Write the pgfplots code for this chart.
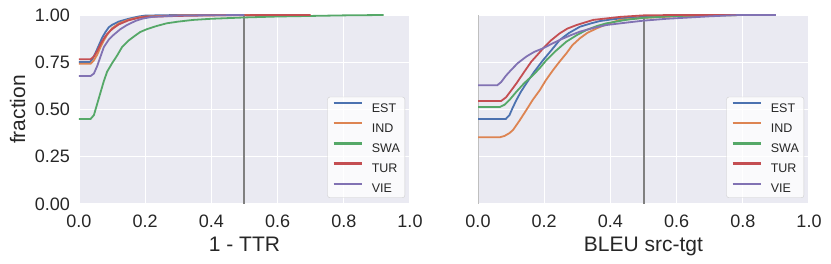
\documentclass[border=0pt]{standalone}
\usepackage{pgfplots}
\pgfplotsset{compat=1.18}
\usepackage{fontspec}
\setmainfont{Liberation Sans}
\definecolor{bgc}{HTML}{EAEAF2}
\definecolor{txt}{HTML}{262626}
\definecolor{cEST}{HTML}{4C72B0}
\definecolor{cIND}{HTML}{DD8452}
\definecolor{cSWA}{HTML}{55A868}
\definecolor{cTUR}{HTML}{C44E52}
\definecolor{cVIE}{HTML}{8172B3}
\definecolor{vline}{HTML}{808080}
\pgfplotsset{
  sbstyle/.style={
    scale only axis, width=331pt, height=189pt,
    xmin=0, xmax=1, ymin=0, ymax=1,
    axis background/.style={fill=bgc},
    grid=major, grid style={white, line width=1.3pt},
    axis line style={draw=none}, major tick length=0pt,
    xtick={0,0.2,0.4,0.6,0.8,1}, ytick={0,0.25,0.5,0.75,1},
    /pgf/number format/assume math mode=true,
    xticklabel style={/pgf/number format/.cd, fixed, fixed zerofill, precision=1, /tikz/.cd, font=\fontsize{18}{18}\selectfont, text=txt, inner sep=0pt, anchor=north, yshift=-11pt},
    yticklabel style={/pgf/number format/.cd, fixed, fixed zerofill, precision=2, /tikz/.cd, font=\fontsize{18}{18}\selectfont, text=txt, inner sep=0pt, anchor=east, xshift=-9pt},
    label style={font=\fontsize{21}{21}\selectfont, text=txt, inner sep=0pt},
    xlabel style={at={(axis description cs:0.5,-0.249)}, anchor=base},
    every axis plot/.append style={line width=1.8pt},
    legend style={at={(axis description cs:0.985,0.032)}, anchor=south east,
      font=\fontsize{12.5}{12.5}\selectfont, text=txt,
      fill=white, fill opacity=0.8, text opacity=1, draw=black!20, rounded corners=2.5pt,
      inner xsep=5pt, inner ysep=5pt, row sep=10pt,
      nodes={inner sep=0pt, text height=9pt, text depth=0pt},
      /tikz/every odd column/.append style={column sep=9pt}},
    legend cell align=left,
    legend image code/.code={\draw[#1, line width=2.3pt, draw opacity=1, rounded corners=0pt] (0pt,4.5pt) -- (28pt,4.5pt);},
  }
}
\begin{document}
\begin{tikzpicture}
\begin{axis}[sbstyle, at={(79pt,60pt)}, anchor=south west,
  xlabel={1 - TTR}, ylabel={fraction},
  ylabel style={at={(axis description cs:-0.163,0.5)}, anchor=base, rotate=0}]
\addplot[forget plot, color=vline, line width=2pt] coordinates {(0.5,0) (0.5,1)};
\addplot[cEST] coordinates {(0,0.751) (0.033,0.751) (0.04,0.765) (0.05,0.80) (0.06,0.84) (0.07,0.88) (0.08,0.91) (0.09,0.935) (0.10,0.948) (0.12,0.965) (0.15,0.98) (0.18,0.992) (0.2,0.997) (0.3,1.0) (0.6,1.0)};
\addlegendentry{EST}
\addplot[cIND] coordinates {(0,0.742) (0.035,0.742) (0.045,0.76) (0.055,0.79) (0.065,0.83) (0.075,0.865) (0.085,0.895) (0.10,0.93) (0.12,0.955) (0.15,0.975) (0.18,0.987) (0.2,0.992) (0.3,0.998) (0.5,1.0) (0.6,1.0)};
\addlegendentry{IND}
\addplot[cSWA] coordinates {(0,0.45) (0.035,0.45) (0.045,0.47) (0.055,0.53) (0.065,0.59) (0.075,0.65) (0.085,0.70) (0.10,0.745) (0.115,0.785) (0.13,0.83) (0.15,0.865) (0.165,0.885) (0.185,0.91) (0.205,0.925) (0.235,0.942) (0.265,0.956) (0.3,0.965) (0.345,0.974) (0.4,0.98) (0.5,0.987) (0.6,0.992) (0.7,0.995) (0.8,0.998) (0.92,1.0)};
\addlegendentry{SWA}
\addplot[cTUR] coordinates {(0,0.766) (0.035,0.766) (0.045,0.78) (0.055,0.81) (0.065,0.845) (0.075,0.875) (0.085,0.90) (0.10,0.925) (0.12,0.95) (0.15,0.972) (0.18,0.985) (0.2,0.99) (0.3,0.995) (0.4,0.998) (0.6,1.0) (0.7,1.0)};
\addlegendentry{TUR}
\addplot[cVIE] coordinates {(0,0.677) (0.035,0.677) (0.045,0.69) (0.055,0.73) (0.065,0.78) (0.075,0.83) (0.09,0.87) (0.104,0.894) (0.125,0.925) (0.145,0.947) (0.17,0.968) (0.19,0.98) (0.22,0.99) (0.3,0.997) (0.5,1.0)};
\addlegendentry{VIE}
\end{axis}
\begin{axis}[sbstyle, at={(478pt,60pt)}, anchor=south west,
  xlabel={BLEU src-tgt}, yticklabels={}]
\addplot[forget plot, color=black!25, line width=1.2pt] coordinates {(0,0) (0,1)};
\addplot[forget plot, color=vline, line width=2pt] coordinates {(0.5,0) (0.5,1)};
\addplot[cEST] coordinates {(0,0.45) (0.084,0.45) (0.095,0.47) (0.105,0.51) (0.116,0.55) (0.13,0.595) (0.146,0.638) (0.17,0.70) (0.197,0.762) (0.22,0.81) (0.247,0.868) (0.275,0.905) (0.308,0.938) (0.34,0.955) (0.368,0.968) (0.41,0.978) (0.45,0.985) (0.5,0.99) (0.6,0.998) (0.7,1.0) (0.9,1.0)};
\addlegendentry{EST}
\addplot[cIND] coordinates {(0,0.353) (0.066,0.353) (0.08,0.36) (0.095,0.375) (0.106,0.392) (0.125,0.44) (0.146,0.497) (0.165,0.55) (0.187,0.603) (0.205,0.655) (0.227,0.709) (0.245,0.75) (0.267,0.797) (0.285,0.84) (0.308,0.877) (0.33,0.905) (0.358,0.929) (0.39,0.952) (0.429,0.974) (0.5,0.985) (0.6,0.993) (0.7,0.997) (0.8,1.0) (0.88,1.0)};
\addlegendentry{IND}
\addplot[cSWA] coordinates {(0,0.513) (0.066,0.513) (0.08,0.525) (0.095,0.55) (0.116,0.594) (0.14,0.64) (0.167,0.683) (0.187,0.72) (0.207,0.762) (0.235,0.81) (0.267,0.859) (0.3,0.895) (0.328,0.921) (0.36,0.942) (0.388,0.956) (0.45,0.975) (0.5,0.985) (0.6,0.995) (0.8,1.0)};
\addlegendentry{SWA}
\addplot[cTUR] coordinates {(0,0.545) (0.07,0.545) (0.085,0.565) (0.1,0.60) (0.116,0.638) (0.14,0.70) (0.161,0.753) (0.18,0.79) (0.197,0.824) (0.22,0.865) (0.247,0.903) (0.27,0.928) (0.298,0.947) (0.348,0.974) (0.43,0.99) (0.5,0.998) (0.6,1.0) (0.8,1.0)};
\addlegendentry{TUR}
\addplot[cVIE] coordinates {(0,0.628) (0.058,0.628) (0.07,0.645) (0.085,0.68) (0.1,0.709) (0.12,0.745) (0.146,0.78) (0.17,0.805) (0.197,0.824) (0.22,0.845) (0.247,0.868) (0.28,0.893) (0.308,0.912) (0.35,0.932) (0.388,0.947) (0.45,0.96) (0.5,0.97) (0.57,0.98) (0.63,0.986) (0.7,0.993) (0.79,1.0) (0.9,1.0)};
\addlegendentry{VIE}
\end{axis}
\pgfresetboundingbox
\path (0,0) rectangle (831pt,264pt);
\end{tikzpicture}
\end{document}
